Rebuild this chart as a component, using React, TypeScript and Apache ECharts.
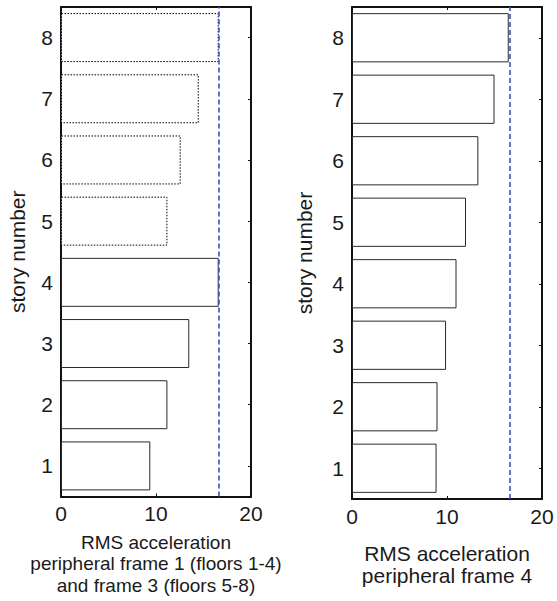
import React, { useEffect, useRef } from "react";
import * as echarts from "echarts";

const stories = ["1", "2", "3", "4", "5", "6", "7", "8"];
const leftValues = [9.4, 11.2, 13.5, 16.6, 11.2, 12.6, 14.5, 16.6];
const leftFrames = [1, 1, 1, 1, 3, 3, 3, 3];
const rightValues = [8.9, 9.0, 9.9, 11.0, 12.0, 13.3, 15.0, 16.5];
const limitValue = 16.6;
const xMin = 0;
const xMax = 20;
const xInterval = 10;
const leftXName = ["RMS acceleration", "peripheral frame 1 (floors 1-4)", "and frame 3 (floors 5-8)"];
const rightXName = ["RMS acceleration", "peripheral frame 4"];
const yName = "story number";

const FONT = "Liberation Sans, Arial, Helvetica, sans-serif";
const AXIS_COLOR = "#111";
const TEXT_COLOR = "#1a1a1a";

function valueAxes(gridIndex: number, name: string, nameGap: number, nameSize: number, lineH: number) {
  const common = {
    type: "value" as const,
    gridIndex,
    min: xMin,
    max: xMax,
    interval: xInterval,
    splitLine: { show: false },
    axisLine: { show: true, onZero: false, lineStyle: { color: AXIS_COLOR, width: 2 } },
    axisTick: { show: true, inside: true, length: 3, lineStyle: { color: AXIS_COLOR, width: 1 } },
  };
  return [
    {
      ...common,
      position: "bottom",
      name,
      nameLocation: "middle",
      nameGap,
      nameTextStyle: { fontSize: nameSize, lineHeight: lineH, color: TEXT_COLOR, fontFamily: FONT },
      axisLabel: { show: true, fontSize: 21, lineHeight: 24, margin: 5, color: TEXT_COLOR, fontFamily: FONT },
    },
    {
      ...common,
      position: "top",
      axisLabel: { show: false },
    },
  ];
}

function categoryAxes(gridIndex: number, nameGap: number) {
  const common = {
    type: "category" as const,
    gridIndex,
    data: stories,
    boundaryGap: true,
    splitLine: { show: false },
    axisLine: { show: true, onZero: false, lineStyle: { color: AXIS_COLOR, width: 2 } },
    axisTick: { show: true, inside: true, length: 3, alignWithLabel: true, lineStyle: { color: AXIS_COLOR, width: 1 } },
  };
  return [
    {
      ...common,
      position: "left",
      name: yName,
      nameLocation: "middle",
      nameGap,
      nameRotate: 90,
      nameTextStyle: { fontSize: 21, color: TEXT_COLOR, fontFamily: FONT },
      axisLabel: { show: true, fontSize: 21, margin: 8, color: TEXT_COLOR, fontFamily: FONT },
    },
    {
      ...common,
      position: "right",
      axisLabel: { show: false },
    },
  ];
}

function limitLine() {
  return {
    silent: true,
    symbol: ["none", "none"],
    label: { show: false },
    emphasis: { disabled: true },
    lineStyle: { color: "#3553c0", type: [5, 3], width: 1.6 },
    data: [{ xAxis: limitValue }],
  };
}

export default function App() {
  const ref = useRef<HTMLDivElement>(null);

  useEffect(() => {
    if (!ref.current) return;
    const chart = echarts.init(ref.current, null, { renderer: "svg" });

    const leftData = leftValues.map((v, i) => ({
      value: v,
      itemStyle: {
        color: "#ffffff",
        borderColor: leftFrames[i] === 1 ? "#2a2a2a" : "#000000",
        borderWidth: 1,
        borderType: leftFrames[i] === 1 ? "solid" : [1.5, 1.5],
      },
    }));
    const rightData = rightValues.map((v) => ({
      value: v,
      itemStyle: { color: "#ffffff", borderColor: "#2a2a2a", borderWidth: 1, borderType: "solid" },
    }));

    chart.setOption({
      animation: false,
      textStyle: { fontFamily: FONT },
      grid: [
        { left: 61, top: 7, width: 190, height: 492, containLabel: false },
        { left: 352, top: 7, width: 190, height: 492, containLabel: false },
      ],
      xAxis: [
        ...valueAxes(0, leftXName.join("\n"), 35, 19, 21.5),
        ...valueAxes(1, rightXName.join("\n"), 43, 21, 22),
      ],
      yAxis: [...categoryAxes(0, 33), ...categoryAxes(1, 37)],
      series: [
        {
          type: "bar",
          xAxisIndex: 0,
          yAxisIndex: 0,
          barWidth: "80%",
          data: leftData,
          emphasis: { disabled: true },
          markLine: limitLine(),
          z: 2,
        },
        {
          type: "bar",
          xAxisIndex: 2,
          yAxisIndex: 2,
          barWidth: "80%",
          data: rightData,
          emphasis: { disabled: true },
          markLine: limitLine(),
          z: 2,
        },
      ],
    });

    return () => chart.dispose();
  }, []);

  return (
    <div
      ref={ref}
      style={{ position: "absolute", left: 0, top: 0, width: 557, height: 601, background: "#fff" }}
    />
  );
}
